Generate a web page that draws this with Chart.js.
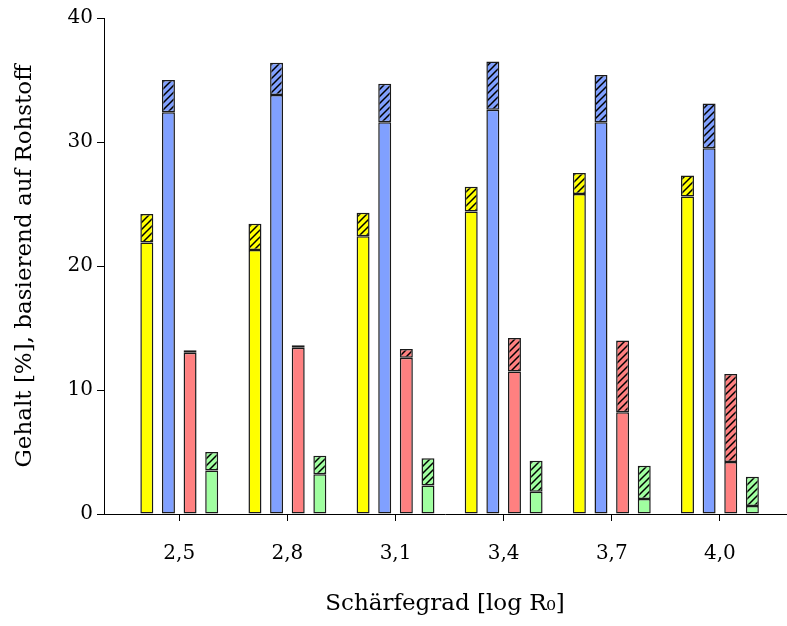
<!DOCTYPE html>
<html>
<head>
<meta charset="utf-8">
<script src="https://cdn.jsdelivr.net/npm/chart.js@4"></script>
<style>
  body { margin: 0; background: #fff; }
</style>
</head>
<body>
<canvas id="chart_gehalt" width="787" height="626"></canvas>
<script>
const chart_gehalt = document.getElementById('chart_gehalt');

// Schärfegrad-Kategorien
const kategorien = ['2,5', '2,8', '3,1', '3,4', '3,7', '4,0'];

// je Reihe: voller Anteil (unten) und Gesamthöhe inkl. schraffiertem Anteil
const gelb_voll = [21.9, 21.3, 22.4, 24.4, 25.8, 25.6];
const gelb_gesamt = [24.2, 23.4, 24.3, 26.4, 27.5, 27.3];
const blau_voll = [32.4, 33.8, 31.6, 32.6, 31.6, 29.5];
const blau_gesamt = [35.0, 36.4, 34.7, 36.5, 35.4, 33.1];
const rot_voll = [13.0, 13.4, 12.6, 11.5, 8.2, 4.2];
const rot_gesamt = [13.2, 13.6, 13.3, 14.2, 14.0, 11.3];
const gruen_voll = [3.5, 3.2, 2.3, 1.8, 1.2, 0.65];
const gruen_gesamt = [5.0, 4.7, 4.5, 4.3, 3.9, 3.0];

const y_ticks = [0, 10, 20, 30, 40];

const schrift = { family: 'DejaVu Serif', size: 20 };
const titel_schrift = { family: 'DejaVu Serif', size: 23 };

const schraffur = (farbe) => {
  const c = document.createElement('canvas');
  c.width = 7; c.height = 7;
  const g = c.getContext('2d');
  g.fillStyle = farbe;
  g.fillRect(0, 0, 7, 7);
  g.strokeStyle = '#000';
  g.lineWidth = 1.5;
  g.beginPath();
  g.moveTo(0, 7); g.lineTo(7, 0);
  g.moveTo(-1, 1); g.lineTo(1, -1);
  g.moveTo(6, 8); g.lineTo(8, 6);
  g.stroke();
  return g.createPattern(c, 'repeat');
}

const reihen = [
  { voll: gelb_voll, gesamt: gelb_gesamt, farbe: '#ffff00' },
  { voll: blau_voll, gesamt: blau_gesamt, farbe: '#80a0ff' },
  { voll: rot_voll, gesamt: rot_gesamt, farbe: '#ff8080' },
  { voll: gruen_voll, gesamt: gruen_gesamt, farbe: '#a0ffa0' }
];

const datasets = [];
reihen.forEach((r, i) => {
  datasets.push({
    data: r.voll.map((v, j) => ({ x: j, y: v })),
    backgroundColor: r.farbe,
    stack: 's' + i
  });
  datasets.push({
    data: r.gesamt.map((t, j) => ({ x: j, y: +(t - r.voll[j]).toFixed(2) })),
    backgroundColor: schraffur(r.farbe),
    stack: 's' + i
  });
});

new Chart(chart_gehalt, {
  type: 'bar',
  data: { datasets: datasets },
  options: {
    responsive: false,
    animation: false,
    layout: { padding: { top: 18, right: 1, left: 0, bottom: 0 } },
    plugins: { legend: { display: false }, tooltip: { enabled: false } },
    datasets: {
      bar: {
        categoryPercentage: 0.8,
        barPercentage: 0.6,
        borderWidth: 1.5,
        borderColor: '#1a1a1a',
        borderSkipped: false
      }
    },
    scales: {
      x: {
        type: 'linear',
        stacked: true,
        min: -0.696,
        max: 5.611,
        offset: false,
        grid: { offset: false, drawOnChartArea: false, tickLength: 7, tickColor: '#000' },
        border: { color: '#000', width: 1 },
        afterBuildTicks: (s) => {
          s.ticks = kategorien.map((k, i) => ({ value: i }));
        },
        afterFit: (s) => { s.height = 112; },
        ticks: {
          callback: (v) => kategorien[v],
          font: schrift,
          color: '#000',
          padding: 21,
          maxRotation: 0
        },
        title: {
          display: true,
          text: 'Schärfegrad [log R₀]',
          font: titel_schrift,
          color: '#000',
          padding: { top: 0, bottom: 8 }
        }
      },
      y: {
        stacked: true,
        min: 0,
        max: 40,
        grid: { drawOnChartArea: false, tickLength: 7, tickColor: '#000' },
        border: { color: '#000', width: 1 },
        afterBuildTicks: (s) => {
          s.ticks = y_ticks.map(v => ({ value: v }));
        },
        afterFit: (s) => { s.width = 104; },
        ticks: {
          font: schrift,
          color: '#000',
          padding: 4
        },
        title: {
          display: true,
          text: 'Gehalt [%], basierend auf Rohstoff',
          font: titel_schrift,
          color: '#000',
          padding: { top: 11, bottom: 0 }
        }
      }
    }
  }
});
</script>
</body>
</html>
